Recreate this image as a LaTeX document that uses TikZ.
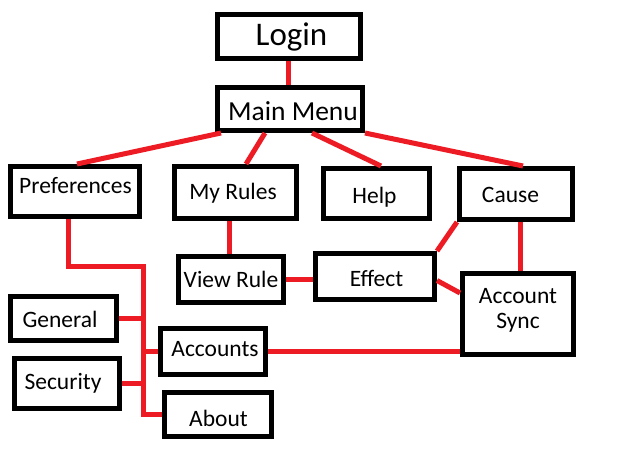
\documentclass[tikz,border=0pt]{standalone}
\usepackage{fontspec}
\setmainfont{Carlito}
\usetikzlibrary{calc}
\definecolor{pred}{RGB}{237,28,36}
\tikzset{
  box/.style={draw=black, line width=5pt, fill=white, inner sep=0pt},
  lbl/.style={inner sep=0pt, font=\fontsize{23.5}{25}\selectfont, text height=15.1pt, text depth=0pt},
  link/.style={draw=pred, line width=5pt, line cap=butt},
}
\begin{document}
\begin{tikzpicture}[x=1pt,y=1pt]
\useasboundingbox (0,0) rectangle (640,-463);
% boxes
\node[box, minimum width=143, minimum height=44] (login) at (289,-36.5) {};
\node[box, minimum width=145, minimum height=43] (main) at (290,-109) {};
\node[box, minimum width=129, minimum height=50] (pref) at (75,-191.5) {};
\node[box, minimum width=122, minimum height=52] (rules) at (235.5,-192.5) {};
\node[box, minimum width=106, minimum height=50] (help) at (376.5,-193.5) {};
\node[box, minimum width=113, minimum height=51] (cause) at (516,-194) {};
\node[box, minimum width=105, minimum height=46] (view) at (231,-279.5) {};
\node[box, minimum width=119, minimum height=46] (effect) at (375,-276.5) {};
\node[box, minimum width=111, minimum height=81] (sync) at (518,-314) {};
\node[box, minimum width=106, minimum height=44] (general) at (63.5,-318.5) {};
\node[box, minimum width=105, minimum height=50] (security) at (67,-383.5) {};
\node[box, minimum width=105, minimum height=46] (accounts) at (213,-351.5) {};
\node[box, minimum width=107, minimum height=44] (about) at (218,-414.5) {};
% texts
\node[lbl, font=\fontsize{33}{36}\selectfont, text height=21.3pt] (loginT) at ($(login)+(2.5,1.5)$) {Login};
\node[lbl, font=\fontsize{27.5}{30}\selectfont, text height=17.7pt] (mainT) at ($(main)+(3,-3)$) {Main Menu};
\node[lbl] (prefT) at ($(pref)+(0.5,6)$) {Preferences};
\node[lbl] (rulesT) at ($(rules)+(-2.5,0.5)$) {My Rules};
\node[lbl] (helpT) at ($(help)+(-2,-2.5)$) {Help};
\node[lbl] (causeT) at ($(cause)+(-5.5,-0.5)$) {Cause};
\node[lbl] (viewT) at ($(view)+(0,0)$) {View Rule};
\node[lbl] (effectT) at ($(effect)+(1.5,-2)$) {Effect};
\node[inner sep=0pt, align=center, font=\fontsize{23.5}{25}\selectfont] (syncT) at ($(sync)+(0,3.7)$) {Account\\Sync};
\node[lbl] (generalT) at ($(general)+(-3.5,-1.5)$) {General};
\node[lbl] (securityT) at ($(security)+(-4,1.5)$) {Security};
\node[lbl] (accountsT) at ($(accounts)+(2,3)$) {Accounts};
\node[lbl] (aboutT) at ($(about)+(0.5,-4)$) {About};
\coordinate (bend1) at (68,-266);
\coordinate (bend2) at (143,-266);
% connectors
\begin{scope}[link]
\draw (288,0 |- login.south) -- (288,0 |- main.north);
\draw (221,0 |- main.south) -- (77,0 |- pref.north);
\draw (265,0 |- main.south) -- (246,0 |- rules.north);
\draw (312,0 |- main.south) -- (381,0 |- help.north);
\draw (main.south east) -- (523,0 |- cause.north);
\draw (68,0 |- pref.south) -- (bend1) -- (bend2) -- (bend2 |- about.west) -- (about.west);
\draw (general.east) -- (bend2 |- general.east);
\draw (security.east) -- (bend2 |- security.east);
\draw (accounts.west) -- (bend2 |- accounts.west);
\draw (accounts.east) -- (sync.west |- accounts.east);
\draw (229,0 |- rules.south) -- (229,0 |- view.north);
\draw (view.east) -- (effect.west |- view.east);
\draw (cause.south west) -- (effect.north east);
\draw (520,0 |- cause.south) -- (520,0 |- sync.north);
\draw ($(effect.east)+(0,-4)$) -- ($(sync.west)+(0,21)$);
\end{scope}
\end{tikzpicture}
\end{document}
